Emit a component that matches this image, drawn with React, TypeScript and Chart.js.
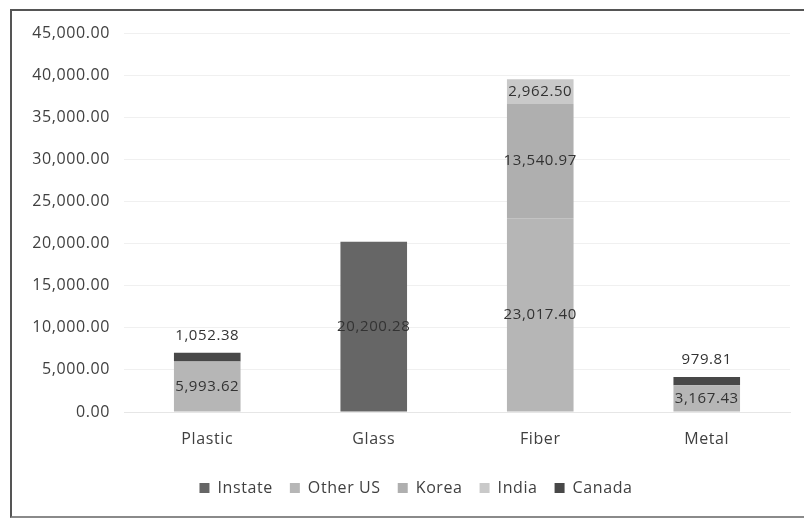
import React, { useEffect, useRef } from "react";
import { Chart, registerables } from "chart.js";

Chart.register(...registerables);

const categories = ["Plastic", "Glass", "Fiber", "Metal"];
const seriesNames = ["Instate", "Other US", "Korea", "India", "Canada"];
const instate = [0, 20200.28, 0, 0];
const otherUS = [5993.62, 0, 23017.4, 3167.43];
const korea = [0, 0, 13540.97, 0];
const india = [0, 0, 2962.5, 0];
const canada = [1052.38, 0, 0, 979.81];
const seriesColors = ["#666666", "#b6b6b6", "#afafaf", "#c9c9c9", "#484848"];

const FONT = "'Open Sans', 'Noto Sans', sans-serif";
const SPACING = "0.6px";
const LEGEND_SHIFT = 21;

const fmt = (v: number) =>
  v.toLocaleString("en-US", { minimumFractionDigits: 2, maximumFractionDigits: 2 });

// Slightly wider letter spacing for all canvas text (kept in the context state)
const letterSpacing = {
  id: "letterSpacing",
  beforeLayout(chart: any) {
    chart.ctx.letterSpacing = SPACING;
  },
  beforeDraw(chart: any) {
    chart.ctx.letterSpacing = SPACING;
  },
};

// Nudge the bottom legend a little to the right
const legendOffset = {
  id: "legendOffset",
  afterLayout(chart: any) {
    const lg = chart.legend;
    if (!lg) return;
    lg.left += LEGEND_SHIFT;
    lg.right += LEGEND_SHIFT;
  },
};

// Value labels: centred in each segment, except the top "Canada" caps, which sit above the bar
const valueLabels = {
  id: "valueLabels",
  afterDatasetsDraw(chart: any) {
    const ctx = chart.ctx;
    ctx.save();
    ctx.font = `15px ${FONT}`;
    ctx.fillStyle = "#333333";
    ctx.textAlign = "center";
    ctx.textBaseline = "middle";
    chart.data.datasets.forEach((ds: any, di: number) => {
      const meta = chart.getDatasetMeta(di);
      meta.data.forEach((el: any, i: number) => {
        const v = ds.data[i];
        if (!v) return;
        const y = ds.label === "Canada" ? el.y - 17 : (el.y + el.base) / 2;
        ctx.fillText(fmt(v), el.x, y);
      });
    });
    ctx.restore();
  },
};

export default function App() {
  const ref = useRef<HTMLCanvasElement>(null);

  useEffect(() => {
    if (!ref.current) return;
    const values = [instate, otherUS, korea, india, canada];
    const chart = new Chart(ref.current, {
      type: "bar",
      data: {
        labels: categories,
        datasets: seriesNames.map((name, i) => ({
          label: name,
          data: values[i],
          backgroundColor: seriesColors[i],
          borderWidth: 0,
          barPercentage: 0.8,
          categoryPercentage: 0.5,
        })),
      },
      options: {
        animation: false,
        responsive: false,
        maintainAspectRatio: false,
        layout: { padding: { top: 33, right: 14, bottom: 12, left: 0 } },
        scales: {
          x: {
            stacked: true,
            grid: { display: false, drawTicks: false },
            border: { display: true, color: "#e6e6e6" },
            ticks: { color: "#404040", font: { family: FONT, size: 16 }, padding: 18 },
            afterFit: (s: any) => {
              s.height = 51;
            },
          },
          y: {
            stacked: true,
            min: 0,
            max: 45000,
            grid: { color: "#f0f0f0", drawTicks: false },
            border: { display: false },
            ticks: {
              stepSize: 5000,
              color: "#404040",
              font: { family: FONT, size: 16 },
              padding: 14,
              callback: (v: any) => fmt(Number(v)),
            },
            afterFit: (s: any) => {
              s.width = 124;
            },
          },
        },
        plugins: {
          legend: {
            position: "bottom",
            labels: {
              color: "#404040",
              font: { family: FONT, size: 16 },
              boxWidth: 10,
              boxHeight: 10,
              padding: 17,
            },
          },
          tooltip: { enabled: false },
        },
      },
      plugins: [letterSpacing, legendOffset, valueLabels],
    });
    return () => chart.destroy();
  }, []);

  return (
    <div style={{ position: "fixed", left: 0, top: 0, width: 804, height: 518, background: "#fff" }}>
      <div
        style={{
          position: "absolute",
          left: 10,
          top: 9,
          width: 820,
          height: 505,
          borderTop: "2px solid #555",
          borderLeft: "2px solid #555",
          borderBottom: "2px solid #8a8a8a",
        }}
      />
      <canvas ref={ref} width={804} height={518} style={{ position: "absolute", left: 0, top: 0 }} />
    </div>
  );
}
